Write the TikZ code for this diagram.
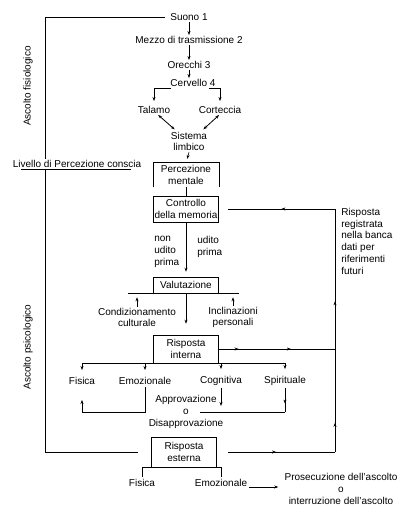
\documentclass[tikz,border=0pt]{standalone}
\usepackage{fontspec}
\setmainfont{Liberation Sans}
\usetikzlibrary{
    arrows.meta,
    decorations.markings
}

\tikzset{
  box/.style={draw, minimum width=65pt, align=center, inner sep=1pt},
  txt/.style={align=center, inner sep=1pt},
  arr/.style={-{Stealth[length=4pt,width=3pt]}},
  dblarr/.style={{Stealth[length=4pt,width=3pt]}-{Stealth[length=4pt,width=3pt]}},
  midarrow/.style={postaction={decorate}, decoration={markings,
      mark=at position #1 with {\arrow{Stealth[length=4pt,width=3pt]}}}},
  midarrows/.style 2 args={postaction={decorate}, decoration={markings,
      mark=at position #1 with {\arrow{Stealth[length=4pt,width=3pt]}},
      mark=at position #2 with {\arrow{Stealth[length=4pt,width=3pt]}}}}
}

\begin{document}
\begin{tikzpicture}[x=1pt, y=-1pt, line width=0.6pt, font=\fontsize{10}{11.7}\selectfont]
\useasboundingbox[fill=white] (0,0) rectangle (411,520);

% Side labels
\node[txt, rotate=90] (fisiol) at (28,86) {Ascolto fisiologico};
\node[txt, rotate=90] (psicol) at (28,347) {Ascolto psicologico};
\node[txt] (livello) at (77,164) {Livello di Percezione conscia};

% Physiological chain
\node[txt] (suono) at (189,17) {Suono 1};
\node[txt] (mezzo) at (189,40) {Mezzo di trasmissione 2};
\node[txt] (orecchi) at (189,65) {Orecchi 3};
\node[txt] (cervello) at (193,83) {Cervello 4};
\node[txt] (talamo) at (154,110) {Talamo};
\node[txt] (corteccia) at (220,110) {Corteccia};
\node[txt] (sistema) at (189,141.5) {Sistema\\limbico};

% Boxes
\node[box, draw=none, minimum height=24pt] (perc) at (186,175) {Percezione\\mentale};
\node[box, minimum height=26pt] (controllo) at (186,209) {Controllo\\della memoria};
\node[box, minimum height=16pt] (val) at (186,285) {Valutazione};
\node[box, minimum height=28pt] (interna) at (186,349) {Risposta\\interna};
\node[box, minimum height=30pt] (esterna) at (184,452) {Risposta\\esterna};

% Other texts
\node[txt, anchor=north west, align=left] (nonudito) at (153,235) {non\\udito\\prima};
\node[txt, anchor=north west, align=left] (udito) at (196,235) {udito\\prima};
\node[txt, anchor=north west, align=left, inner sep=0pt] (banca) at (341,208)
  {Risposta\\registrata\\nella banca\\dati per\\riferimenti\\futuri};
\node[txt] (cond) at (137,317.5) {Condizionamento\\culturale};
\node[txt] (incl) at (233,317.5) {Inclinazioni\\personali};
\node[txt, inner sep=2pt] (fis) at (82,381) {Fisica};
\node[txt, inner sep=2pt] (emo) at (145,381) {Emozionale};
\node[txt, inner sep=2pt] (cog) at (221,381) {Cognitiva};
\node[txt, inner sep=2pt] (spi) at (285,381) {Spirituale};
\node[txt] (ap1) at (186,400) {Approvazione};
\node[txt] (apo) at (186,412) {o};
\node[txt] (ap2) at (186,424) {Disapprovazione};
\node[txt, inner sep=2pt] (fis2) at (142,483) {Fisica};
\node[txt, inner sep=2pt] (emo2) at (221,483) {Emozionale};
\node[txt, inner sep=2pt] (pros) at (341,489) {Prosecuzione dell'ascolto\\o\\interruzione dell'ascolto};

% Frame points
\coordinate (tl) at (45,17);
\coordinate (bl) at (45,452);
\coordinate (rb) at (335,452);
\coordinate (rt) at (335,209);
\coordinate (apR) at (200,412);

% Left frame
\draw[shorten <=4pt] (suono.west) -- (tl) -- (tl |- livello.north);
\draw (tl |- livello.south) -- (bl) -- ([xshift=-13pt]esterna.west);
\draw ([xshift=10pt]livello.south west) -- ([xshift=-12pt]livello.south east);

% Chain arrows
\draw[arr] (suono.south) -- (mezzo.north);
\draw[arr] (mezzo.south) -- (orecchi.north);
\draw[arr] (orecchi.south) -- (orecchi.south |- cervello.north);
\draw[arr, line width=0.9pt, shorten >=4pt] ([xshift=2pt]cervello.south west) -| (talamo.north);
\draw[arr, shorten >=4pt] ([xshift=-8pt]cervello.south east) -| (corteccia.north);
\draw[dblarr, line width=0.8pt, shorten >=2pt] (talamo.-50) -- (sistema.140);
\draw[dblarr, line width=0.8pt, shorten >=2pt] (corteccia.-100) -- (sistema.40);
\draw[arr, shorten >=4pt] (sistema.south) -- (perc.north);

% Percezione box (open at the bottom)
\draw (perc.south west) -- (perc.north west) -- (perc.north east) -- (perc.south east);
\draw (perc.south) -- (controllo.north);
\draw[arr, shorten >=5pt] (controllo.south) -- (val.north);

% Valutazione
\draw ([xshift=-25pt]val.south west) -- ([xshift=20pt]val.south east);
\draw[arr, shorten >=4pt] (cond.north) -- (cond.north |- val.south);
\draw[arr, shorten >=4pt] (incl.north) -- (incl.north |- val.south);
\draw[arr, shorten >=11pt] (val.south) -- (interna.north);

% Risposta interna branches
\draw (fis.north |- interna.south) -- (spi.north |- interna.south);
\foreach \n in {fis, emo, cog, spi}
  \draw[arr, shorten >=5pt] (\n.north |- interna.south) -- (\n.north);

% Approvazione feedback
\draw[arr, shorten >=13pt] (emo.south) -- (emo.south |- apo) -- (fis.south |- apo) -- (fis.south);
\draw[arr] (cog.south) -- (cog.south |- ap1.south);
\draw[midarrow=0.65] (spi.south) -- (spi.south |- apo);
\draw (spi.south |- apo) -- (apR);

% Right frame
\draw[midarrows={0.17}{0.62}] (interna.east) -- (interna.east -| rb);
\draw[midarrow=0.45] ([xshift=11pt]esterna.east) -- (rb);
\draw[midarrows={0.12}{0.62}] (rb) -- (rt);
\draw[midarrow=0.5] (rt) -- ([xshift=9pt]controllo.east);

% Risposta esterna
\draw (fis2.north) -- (fis2.north |- esterna.south) -- (emo2.north |- esterna.south) -- (emo2.north);
\draw[arr, shorten >=4pt] ([yshift=-4pt]emo2.east) -- ([yshift=-4pt]emo2.east -| pros.west);

\end{tikzpicture}
\end{document}
